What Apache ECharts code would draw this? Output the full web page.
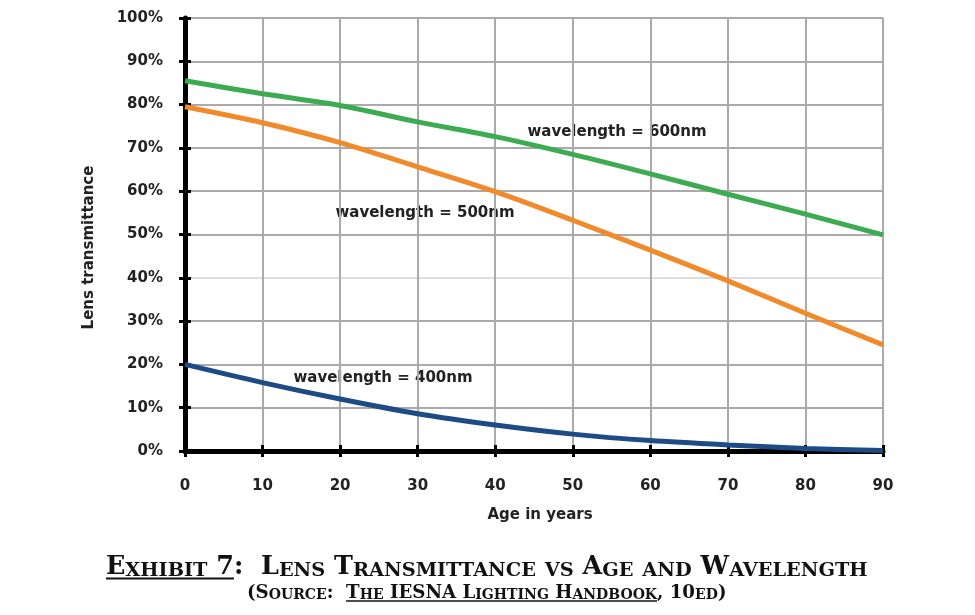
<!DOCTYPE html>
<html>
<head>
<meta charset="utf-8">
<script src="https://cdn.jsdelivr.net/npm/echarts@6/dist/echarts.min.js"></script>
<style>
  html, body { margin: 0; padding: 0; background: #fff; }
  #main { width: 975px; height: 615px; }
</style>
</head>
<body>
<div id="main"></div>
<script>
// data (transmittance in %)
var ages = [0, 10, 20, 30, 40, 50, 60, 70, 80, 90];
var wl600 = [85.5, 82.5, 79.8, 76.0, 72.6, 68.5, 64.0, 59.3, 54.7, 49.9];
var wl500 = [79.5, 75.8, 71.2, 65.6, 59.9, 53.3, 46.4, 39.3, 31.8, 24.5];
var wl400 = [20.0, 15.8, 12.0, 8.6, 6.0, 3.9, 2.4, 1.4, 0.6, 0.1];
var seriesNames = ['wavelength = 600nm', 'wavelength = 500nm', 'wavelength = 400nm'];
var titleLine1 = 'Exhibit 7:  Lens Transmittance vs Age and Wavelength';
var titleLine2 = '(Source:  The IESNA Lighting Handbook, 10ed)';

function pairs(vals) {
  return ages.map(function (a, i) { return [a, vals[i]]; });
}

var grid = { left: 185, right: 92, top: 18, bottom: 164 };

var sans = '"DejaVu Sans"';
var serif = '"DejaVu Serif"';
var ctx = document.createElement('canvas').getContext('2d');
function textW(str, size) {
  ctx.font = 'bold ' + size + 'px ' + serif;
  return ctx.measureText(str).width;
}

// small caps: lower case letters become smaller capitals
function smallCaps(str) {
  var runs = [], cur = null;
  for (var i = 0; i < str.length; i++) {
    var ch = str[i];
    var lower = ch >= 'a' && ch <= 'z';
    var key = lower ? 's' : 'b';
    if (!cur || cur.key !== key) { cur = { key: key, text: '' }; runs.push(cur); }
    cur.text += lower ? ch.toUpperCase() : ch;
  }
  return runs;
}
function runsW(str, big, small) {
  var s = 0;
  smallCaps(str).forEach(function (r) { s += textW(r.text, r.key === 'b' ? big : small); });
  return s;
}

function titleLine(str, left, right, baseline, big, small, ul, ulWidth) {
  var k = (right - left) / runsW(str, big, small);
  big *= k; small *= k;
  var text = smallCaps(str).map(function (r) { return '{' + r.key + '|' + r.text + '}'; }).join('');
  function tok(size) {
    return {
      fontSize: size, fontFamily: serif, fontWeight: 'bold', fill: '#111',
      lineHeight: 0.692 * size + 10, verticalAlign: 'bottom'
    };
  }
  var x1 = left + runsW(str.slice(0, ul[0]), big, small);
  var x2 = left + runsW(str.slice(0, ul[1]), big, small);
  return [{
    type: 'text', x: left, y: baseline + 5,
    style: {
      text: text, rich: { b: tok(big), s: tok(small) },
      fill: '#111', align: 'left', verticalAlign: 'bottom'
    }
  }, {
    type: 'line',
    shape: { x1: x1, y1: baseline + 3.5, x2: x2, y2: baseline + 3.5 },
    style: { stroke: '#111', lineWidth: ulWidth }
  }];
}

var labelStyle = { fontFamily: sans, fontWeight: 'bold', fontSize: 15, color: '#222' };
function curveLabel(str, x, y) {
  return {
    type: 'text', x: x, y: y,
    style: {
      text: str, fill: '#222', font: 'bold 15px ' + sans,
      align: 'center', verticalAlign: 'middle'
    }
  };
}

var tickStyle = { color: '#000', width: 3 };
var colors = ['#3dab52', '#f08a2b', '#1d4b85'];
// horizontal grid lines, 0% .. 100% (the 40% one is faint in the original)
var hGridColors = ['#aaa', '#aaa', '#aaa', '#aaa', '#ddd', '#aaa', '#aaa', '#aaa', '#aaa', '#aaa', '#aaa'];

var myChart = echarts.init(document.getElementById('main'));
var option = {
  backgroundColor: '#fff',
  animation: false,
  grid: [grid, grid],
  xAxis: [{
    type: 'value', min: 0, max: 90, interval: 10,
    axisLine: { lineStyle: { color: '#000', width: 5 } },
    axisTick: { length: 6, lineStyle: tickStyle },
    axisLabel: Object.assign({ margin: 28 }, labelStyle),
    splitLine: { show: true, lineStyle: { color: '#aaa', width: 2 } },
    name: 'Age in years', nameLocation: 'middle', nameGap: 57,
    nameTextStyle: Object.assign({ padding: [0, 0, 0, 12] }, labelStyle)
  }, {
    // inner half of the ticks, on a twin grid
    gridIndex: 1, type: 'value', min: 0, max: 90, interval: 10,
    axisLine: { show: false },
    axisTick: { inside: true, length: 6, lineStyle: tickStyle },
    axisLabel: { show: false },
    splitLine: { show: false }
  }],
  yAxis: [{
    type: 'value', min: 0, max: 100, interval: 10,
    axisLine: { show: true, lineStyle: { color: '#000', width: 5 } },
    axisTick: { show: true, length: 6, lineStyle: tickStyle },
    axisLabel: Object.assign({ margin: 22, formatter: '{value}%' }, labelStyle),
    splitLine: { show: true, lineStyle: { color: hGridColors, width: 2 } },
    name: 'Lens transmittance', nameLocation: 'middle', nameGap: 88,
    nameTextStyle: Object.assign({ padding: [0, 26, 0, 0] }, labelStyle)
  }, {
    gridIndex: 1, type: 'value', min: 0, max: 100, interval: 10,
    axisLine: { show: false },
    axisTick: { show: true, inside: true, length: 6, lineStyle: tickStyle },
    axisLabel: { show: false },
    splitLine: { show: false }
  }],
  series: [wl600, wl500, wl400].map(function (vals, i) {
    return {
      name: seriesNames[i], type: 'line', smooth: 0.3,
      showSymbol: false, clip: false, z: 5,
      lineStyle: { color: colors[i], width: 5 },
      itemStyle: { color: colors[i] },
      data: pairs(vals)
    };
  }),
  graphic: [
    curveLabel(seriesNames[0], 617, 132),
    curveLabel(seriesNames[1], 425, 213),
    curveLabel(seriesNames[2], 383, 378)
  ].concat(
    titleLine(titleLine1, 106, 868, 575, 23, 17.5, [0, 9], 2),
    titleLine(titleLine2, 247, 727, 597.5, 17.5, 13.5, [10, 37], 1.5)
  )
};
myChart.setOption(option);
</script>
</body>
</html>
